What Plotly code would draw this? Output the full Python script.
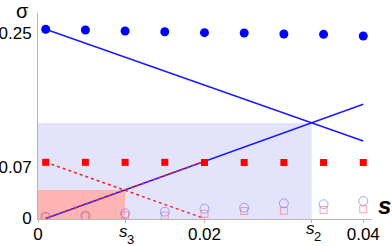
import plotly.graph_objects as go

# ---- data ----
s_vals = [0.0, 0.005, 0.01, 0.015, 0.02, 0.025, 0.03, 0.035, 0.04]
sigma_blue = [0.2557, 0.2547, 0.2534, 0.2524, 0.2511, 0.2507, 0.2493, 0.2489, 0.2466]
sigma_red = [0.0759, 0.0759, 0.0759, 0.0759, 0.0757, 0.0757, 0.0757, 0.0757, 0.0757]
sigma_blue_open = [0.0024, 0.0038, 0.0070, 0.0092, 0.0132, 0.0146, 0.0205, 0.0192, 0.0236]
sigma_red_open = [0.0024, 0.0030, 0.0043, 0.0038, 0.0064, 0.0101, 0.0105, 0.0115, 0.0124]

blue_down_x = [0.0, 0.04]
blue_down_y = [0.2557, 0.1047]
blue_up_x = [0.0, 0.04]
blue_up_y = [0.0, 0.1543]
red_up_x = [0.0, 0.02]
red_up_y = [0.0, 0.0772]
red_down_x = [0.0, 0.02]
red_down_y = [0.0759, 0.0]

s2 = 0.0335
sigma2 = 0.1292
s3 = 0.01
sigma3 = 0.0385

x_tickvals = [-0.00097, s3, 0.02, s2, 0.04]
x_ticktext = ["0", "", "0.02", "", "0.04"]
y_tickvals = [0.0, 0.07, 0.25]
y_ticktext = ["0", "0.07", "0.25"]
special_ticks = [(s3, "3", 0), (s2, "2", 3)]

x_range = [-0.00097, 0.0411]
y_range = [-0.0007, 0.2777]

fig = go.Figure()

# lines
fig.add_trace(go.Scatter(x=blue_down_x, y=blue_down_y, mode="lines",
                         line=dict(color="#1a1aff", width=1.5), hoverinfo="skip"))
fig.add_trace(go.Scatter(x=blue_up_x, y=blue_up_y, mode="lines",
                         line=dict(color="#1a1aff", width=1.5), hoverinfo="skip"))
fig.add_trace(go.Scatter(x=red_up_x, y=red_up_y, mode="lines",
                         line=dict(color="#ff2020", width=1.5, dash="3px,3px"), hoverinfo="skip"))
fig.add_trace(go.Scatter(x=red_down_x, y=red_down_y, mode="lines",
                         line=dict(color="#ff2020", width=1.5, dash="3px,3px"), hoverinfo="skip"))

# open markers
fig.add_trace(go.Scatter(x=s_vals, y=sigma_red_open, mode="markers",
                         marker=dict(symbol="square-open", size=7, color="rgba(255,110,110,0.65)",
                                     line=dict(width=1))))
fig.add_trace(go.Scatter(x=s_vals, y=sigma_blue_open, mode="markers",
                         marker=dict(symbol="circle-open", size=9, color="rgba(110,110,255,0.6)",
                                     line=dict(width=1))))

# filled markers
fig.add_trace(go.Scatter(x=s_vals, y=sigma_red, mode="markers",
                         marker=dict(symbol="square", size=7, color="#ff0000")))
fig.add_trace(go.Scatter(x=s_vals, y=sigma_blue, mode="markers",
                         marker=dict(symbol="circle", size=9, color="#0000ff")))

# shaded regions
fig.add_shape(type="rect", xref="x", yref="y", x0=x_range[0], x1=s2, y0=y_range[0], y1=sigma2,
              fillcolor="#e3e3fb", line=dict(width=0), layer="below")
fig.add_shape(type="rect", xref="x", yref="y", x0=x_range[0], x1=s3, y0=y_range[0], y1=sigma3,
              fillcolor="#ffb4b4", line=dict(width=0), layer="below")

annotations = [
    dict(text="σ", xref="paper", yref="paper", x=-0.047, y=1.0, xanchor="center", yanchor="middle",
         yshift=2, showarrow=False, font=dict(size=20, color="black")),
    dict(text="<b><i>s</i></b>", xref="paper", yref="paper", x=1.036, y=0.065, xanchor="center",
         yanchor="middle", showarrow=False, font=dict(size=24, color="black")),
]
for xv, sub, dy in special_ticks:
    annotations.append(dict(text="<i>s</i>", xref="x", yref="paper", x=xv, y=0, xanchor="center",
                            yanchor="middle", xshift=-1.5, yshift=-12 + dy, showarrow=False,
                            font=dict(size=17, color="black")))
    annotations.append(dict(text=sub, xref="x", yref="paper", x=xv, y=0, xanchor="center",
                            yanchor="middle", xshift=5.5, yshift=-20 + dy, showarrow=False,
                            font=dict(size=13, color="black")))

fig.update_layout(
    width=392, height=246,
    margin=dict(l=38, r=20, t=13, b=27, autoexpand=False),
    paper_bgcolor="white", plot_bgcolor="white",
    showlegend=False,
    font=dict(family="Liberation Sans, Arial, sans-serif", size=17, color="black"),
    xaxis=dict(range=x_range, tickvals=x_tickvals, ticktext=x_ticktext, automargin=False,
               showgrid=False, zeroline=False, showline=True, linecolor="#b5b5b5", linewidth=1,
               ticks="outside", ticklen=3, tickcolor="#b5b5b5", ticklabelstandoff=-3),
    yaxis=dict(range=y_range, tickvals=y_tickvals, ticktext=y_ticktext, automargin=False,
               showgrid=False, zeroline=False, showline=True, linecolor="#b5b5b5", linewidth=1,
               ticks="", ticklabelstandoff=2),
    annotations=annotations,
)

fig.write_html("out.html", config={"displayModeBar": False},
               post_script="document.body.style.margin='0';document.body.style.overflow='hidden';")
